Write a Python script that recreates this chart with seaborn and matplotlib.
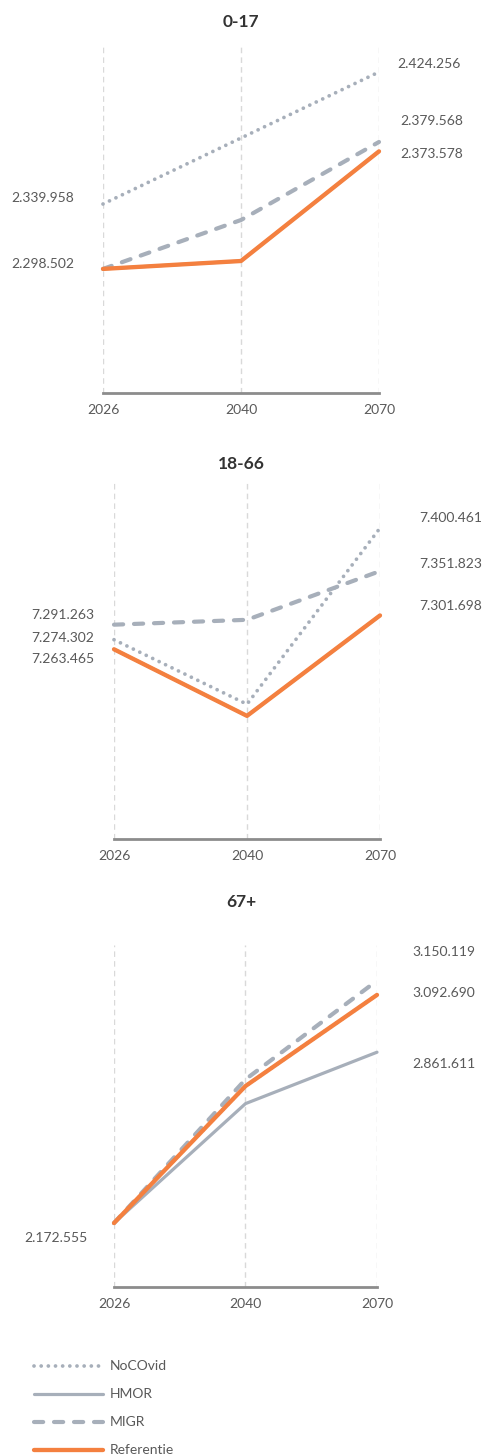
import pandas as pd
import matplotlib.pyplot as plt
import seaborn as sns

# jaren en scenario's
jaren = ['2026', '2040', '2070']
scenarios = ['NoCOvid', 'HMOR', 'MIGR', 'Referentie']

# 0-17
jong_nocovid = [2339958, 2382100, 2424256]
jong_hmor = [2298502, 2303558, 2373578]
jong_migr = [2298502, 2329740, 2379568]
jong_ref = [2298502, 2303558, 2373578]

# 18-66
actief_nocovid = [7274302, 7201405, 7400461]
actief_hmor = [7263465, 7188210, 7301698]
actief_migr = [7291263, 7296786, 7351823]
actief_ref = [7263465, 7188210, 7301698]

# 67+
oud_nocovid = [2172555, 2725149, 3092690]
oud_hmor = [2172555, 2654235, 2861611]
oud_migr = [2172555, 2751909, 3150119]
oud_ref = [2172555, 2725149, 3092690]

groepen = ['0-17', '18-66', '67+']
reeksen = {
    '0-17': [jong_nocovid, jong_hmor, jong_migr, jong_ref],
    '18-66': [actief_nocovid, actief_hmor, actief_migr, actief_ref],
    '67+': [oud_nocovid, oud_hmor, oud_migr, oud_ref],
}

# labels: (scenario, jaar-index, dx, dy) in pixels
labels = {
    '0-17': [('NoCOvid', 0, -29, 6), ('Referentie', 0, -29, 5),
             ('NoCOvid', 2, 18, 8), ('MIGR', 2, 21, 21), ('Referentie', 2, 21, -3)],
    '18-66': [('MIGR', 0, -20, 10), ('NoCOvid', 0, -20, 2), ('Referentie', 0, -20, -10),
              ('NoCOvid', 2, 39, 10), ('MIGR', 2, 39, 7), ('Referentie', 2, 39, 9)],
    '67+': [('Referentie', 0, -26, -15),
            ('MIGR', 2, 35, 29), ('Referentie', 2, 35, 2), ('HMOR', 2, 35, -12)],
}

ylims = {'0-17': (2219263, 2440221), '18-66': (7049097, 7451356), '67+': (1914699, 3293960)}
posities = {'0-17': [103/485, 1-393/1455, 276/485, 346/1455],
            '18-66': [114/485, 1-839/1455, 266/485, 356/1455],
            '67+': [114/485, 1-1287/1455, 263/485, 342/1455]}
titel_y = {'0-17': 1-22/1455, '18-66': 1-464/1455, '67+': 1-902/1455}

grijs = '#a7afba'
oranje = '#f4803f'
kleuren = {'NoCOvid': grijs, 'HMOR': grijs, 'MIGR': grijs, 'Referentie': oranje}
dashes = {'NoCOvid': (0.01, 1.9), 'HMOR': '', 'MIGR': (2.2, 2.6), 'Referentie': ''}
sizes = {'NoCOvid': 2.7, 'HMOR': 2.3, 'MIGR': 3.0, 'Referentie': 3.1}

sns.set_style('white')
plt.rcParams['font.family'] = ['Lato', 'DejaVu Sans']

fig = plt.figure(figsize=(4.85, 14.55), dpi=100)

for groep in groepen:
    rows = []
    for sc, waarden in zip(scenarios, reeksen[groep]):
        for j, w in zip(jaren, waarden):
            rows.append({'Jaar': j, 'Aantal': w, 'Scenario': sc})
    df = pd.DataFrame(rows)

    ax = fig.add_axes(posities[groep])
    sns.lineplot(data=df, x='Jaar', y='Aantal', hue='Scenario', style='Scenario',
                 size='Scenario', hue_order=scenarios, style_order=scenarios,
                 size_order=scenarios, palette=kleuren, dashes=dashes, sizes=sizes,
                 legend=False, ax=ax)
    for ln in ax.lines:
        ln.set_solid_capstyle('round')
        ln.set_dash_capstyle('round')
        ln.set_solid_joinstyle('round')
        ln.set_clip_on(False)

    ax.set_xlim(0, 2)
    ax.set_ylim(*ylims[groep])
    ax.set_xlabel('')
    ax.set_ylabel('')
    ax.set_yticks([])
    ax.xaxis.grid(True, color='#d9d9d9', linestyle=(0, (4, 3)), linewidth=1)
    for s in ['top', 'left', 'right']:
        ax.spines[s].set_visible(False)
    ax.spines['bottom'].set_color('#8c8c8c')
    ax.spines['bottom'].set_linewidth(2)
    ax.tick_params(axis='x', colors='#8c8c8c', length=4, width=1.5, labelsize=10,
                   labelcolor='#595959', pad=4)

    fig.text(0.497, titel_y[groep], groep, ha='center', va='center',
             fontsize=12.5, fontweight='bold', color='#333333')

    for sc, i, dx, dy in labels[groep]:
        w = reeksen[groep][scenarios.index(sc)][i]
        tekst = f'{w:,}'.replace(',', '.')
        ax.annotate(tekst, xy=(i, w), xytext=(dx, dy), textcoords='offset pixels',
                    ha='right' if dx < 0 else 'left', va='center',
                    fontsize=10, color='#595959', annotation_clip=False)

handles = ax.lines[:4]
fig.legend(handles, scenarios, loc='upper left', bbox_to_anchor=(21/485, 1-1348/1455),
           frameon=False, handlelength=5, fontsize=10, labelspacing=1.15,
           handletextpad=0.5, labelcolor='#595959')

fig.savefig('out.png', dpi=100)
